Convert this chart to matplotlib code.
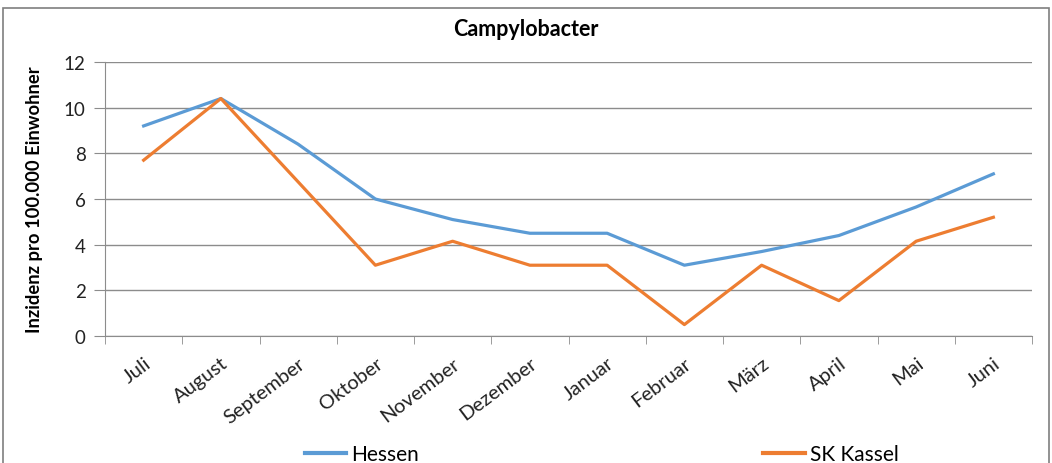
import matplotlib
matplotlib.use("Agg")
import matplotlib.pyplot as plt
import numpy as np

months = ["Juli", "August", "September", "Oktober", "November", "Dezember",
          "Januar", "Februar", "März", "April", "Mai", "Juni"]
hessen = [9.2, 10.4, 8.4, 6.0, 5.1, 4.5, 4.5, 3.1, 3.7, 4.4, 5.65, 7.1]
kassel = [7.7, 10.4, 6.75, 3.1, 4.15, 3.1, 3.1, 0.5, 3.1, 1.55, 4.15, 5.2]

fnt = ["Lato", "DejaVu Sans"]

fig = plt.figure(figsize=(10.52, 4.64), dpi=100)
fig.patches.append(plt.Rectangle((0.003, -0.01), 0.994, 0.99, transform=fig.transFigure,
                                 fill=False, edgecolor="#7f7f7f", linewidth=1.2))
ax = fig.add_axes([105 / 1052, 1 - 337 / 464, (1032 - 105) / 1052, (337 - 63) / 464])

x = np.arange(len(months))
ax.plot(x, hessen, color="#5B9BD5", linewidth=2.3, label="Hessen")
ax.plot(x, kassel, color="#ED7D31", linewidth=2.3, label="SK Kassel")

ax.set_xlim(-0.5, len(months) - 0.5)
ax.set_ylim(0, 12)
ax.set_yticks(range(0, 13, 2))
ax.yaxis.grid(True, color="#8c8c8c", linewidth=1.0)
ax.set_axisbelow(True)
ax.set_xticks(x)
ax.set_xticklabels(months, rotation=37, ha="right", rotation_mode="anchor",
                   family=fnt, fontsize=14.5, color="#222222")
ax.tick_params(axis="x", length=0, pad=13)
ax.set_xticks(np.arange(-0.5, len(months)), minor=True)
ax.tick_params(axis="x", which="minor", length=6, color="#8c8c8c")
ax.tick_params(axis="y", length=8, color="#8c8c8c", labelsize=13.5, pad=6,
               labelcolor="#222222")
for lab in ax.get_yticklabels():
    lab.set_family(fnt)

for s in ["top", "right"]:
    ax.spines[s].set_visible(False)
for s in ["left", "bottom"]:
    ax.spines[s].set_color("#8c8c8c")

ax.set_ylabel("Inzidenz pro 100.000 Einwohner", fontsize=13.2, fontweight="bold",
              family=fnt)
ax.yaxis.set_label_coords(-0.067, 0.5)
fig.text(0.5, 1 - 30 / 464, "Campylobacter", ha="center", va="center",
         fontsize=15.5, fontweight="bold", family=fnt)

leg = fig.legend(loc="center", bbox_to_anchor=(0.572, 1 - 455 / 464), ncol=2,
                 frameon=False, columnspacing=16.5, handlelength=2.0, handletextpad=0.25,
                 prop={"family": fnt, "size": 15})
for h in leg.legend_handles:
    h.set_linewidth(3)

fig.savefig("out.png", dpi=100)
